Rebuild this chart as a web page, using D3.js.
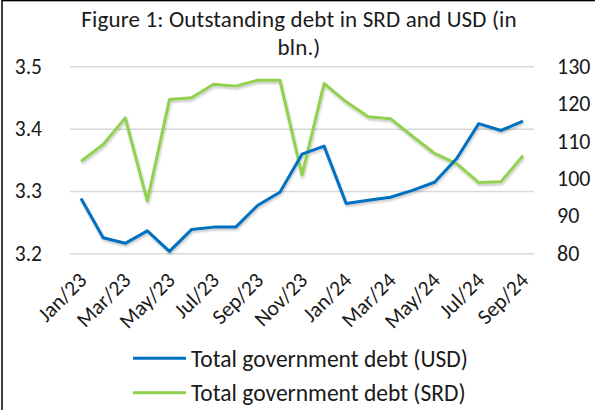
<!DOCTYPE html>
<html>
<head>
<meta charset="utf-8">
<script src="https://cdn.jsdelivr.net/npm/d3@7"></script>
<style>
  html, body { margin: 0; padding: 0; background: #fff; }
  svg { display: block; font-family: Carlito, Calibri, Lato, sans-serif; }
</style>
</head>
<body>
<svg id="chart" width="595" height="410"></svg>
<script>
// Monthly outstanding government debt, Jan 2023 – Sep 2024
const months = ["Jan/23","Feb/23","Mar/23","Apr/23","May/23","Jun/23","Jul/23","Aug/23","Sep/23","Oct/23","Nov/23","Dec/23",
                "Jan/24","Feb/24","Mar/24","Apr/24","May/24","Jun/24","Jul/24","Aug/24","Sep/24"];
// USD debt, billions (left axis)
const debtUSD = [3.288, 3.225, 3.216, 3.236, 3.203, 3.238, 3.242, 3.242, 3.277, 3.298, 3.359, 3.372,
                 3.280, 3.285, 3.290, 3.301, 3.314, 3.352, 3.408, 3.397, 3.412];
// SRD debt, billions (right axis)
const debtSRD = [104.6, 109.1, 116.2, 94.0, 121.1, 121.6, 125.2, 124.7, 126.3, 126.3, 100.9, 125.4,
                 120.5, 116.5, 116.0, 111.3, 106.7, 104.0, 98.9, 99.1, 106.1];
const leftTicks = [3.2, 3.3, 3.4, 3.5];
const rightTicks = [80, 90, 100, 110, 120, 130];
const xLabels = months.filter((d, i) => i % 2 === 0);
const titleLines = ["Figure 1: Outstanding debt in SRD and USD (in", "bln.)"];
const seriesNames = ["Total government debt (USD)", "Total government debt (SRD)"];
const colors = ["#0070C0", "#92D050"];

const FONT = "Carlito, Calibri, Lato, sans-serif";
const svg = d3.select("#chart");
const plot = { left: 70, right: 534, top: 66.3, bottom: 253.3 };

const x = d3.scalePoint().domain(months).range([plot.left, plot.right]).padding(0.5);
const yL = d3.scaleLinear().domain([3.2, 3.5]).range([plot.bottom, plot.top]);
const yR = d3.scaleLinear().domain([80, 130]).range([plot.bottom, plot.top]);

// outer frame
svg.append("rect")
  .attr("x", 2).attr("y", 0.6).attr("width", 800).attr("height", 800)
  .attr("fill", "none").attr("stroke", "#000").attr("stroke-width", 1.5);

// soft shadow under the series lines
const defs = svg.append("defs");
defs.append("filter").attr("id", "shadow")
  .attr("x", "-10%").attr("y", "-10%").attr("width", "120%").attr("height", "130%")
  .append("feDropShadow")
  .attr("dx", 0.8).attr("dy", 2).attr("stdDeviation", 1.3)
  .attr("flood-color", "#000").attr("flood-opacity", 0.22);

// title
const title = svg.append("text")
  .attr("text-anchor", "middle").attr("font-size", 23).attr("fill", "#1a1a1a")
  .attr("letter-spacing", 0.15);
titleLines.forEach((t, i) => {
  title.append("tspan").attr("x", 299).attr("y", 27 + i * 28).text(t);
});

// gridlines + left axis
const gLeft = svg.append("g").attr("transform", `translate(${plot.left},0)`)
  .call(d3.axisLeft(yL).tickValues(leftTicks).tickSize(-(plot.right - plot.left))
        .tickPadding(28).tickFormat(d3.format(".1f")));
gLeft.select(".domain").remove();
gLeft.selectAll(".tick line").attr("stroke", "#d9d9d9").attr("stroke-width", 1.5);
gLeft.selectAll(".tick text").attr("font-size", 21.5).attr("fill", "#1a1a1a")
  .attr("font-family", FONT);

// right axis
const gRight = svg.append("g").attr("transform", `translate(${plot.right},0)`)
  .call(d3.axisRight(yR).tickValues(rightTicks).tickSize(0).tickPadding(23));
gRight.select(".domain").remove();
gRight.selectAll(".tick text").attr("font-size", 22).attr("fill", "#1a1a1a")
  .attr("font-family", FONT);

// category axis with rotated labels
const gBottom = svg.append("g").attr("transform", `translate(0,${plot.bottom})`)
  .call(d3.axisBottom(x).tickValues(xLabels).tickSize(0));
gBottom.select(".domain").remove();
gBottom.selectAll(".tick text")
  .attr("font-size", 21.5).attr("fill", "#1a1a1a")
  .attr("font-family", FONT)
  .attr("text-anchor", "end")
  .attr("dy", "0.35em").attr("y", 0)
  .attr("transform", "translate(1,23) rotate(-45)");

// series lines
const lineUSD = d3.line().x((d, i) => x(months[i])).y(d => yL(d));
const lineSRD = d3.line().x((d, i) => x(months[i])).y(d => yR(d));
const gLines = svg.append("g").attr("filter", "url(#shadow)");
gLines.append("path").datum(debtSRD).attr("d", lineSRD)
  .attr("fill", "none").attr("stroke", colors[1]).attr("stroke-width", 3).attr("stroke-linejoin", "round");
gLines.append("path").datum(debtUSD).attr("d", lineUSD)
  .attr("fill", "none").attr("stroke", colors[0]).attr("stroke-width", 3).attr("stroke-linejoin", "round");

// legend
const legend = svg.append("g");
seriesNames.forEach((name, i) => {
  const yy = 358.3 + i * 34.4;
  legend.append("line").attr("x1", 133).attr("x2", 186).attr("y1", yy).attr("y2", yy)
    .attr("stroke", colors[i]).attr("stroke-width", 3);
  legend.append("text").attr("x", 191).attr("y", yy).attr("dy", "0.36em")
    .attr("font-size", 23.5).attr("fill", "#1a1a1a").text(name);
});
</script>
</body>
</html>
